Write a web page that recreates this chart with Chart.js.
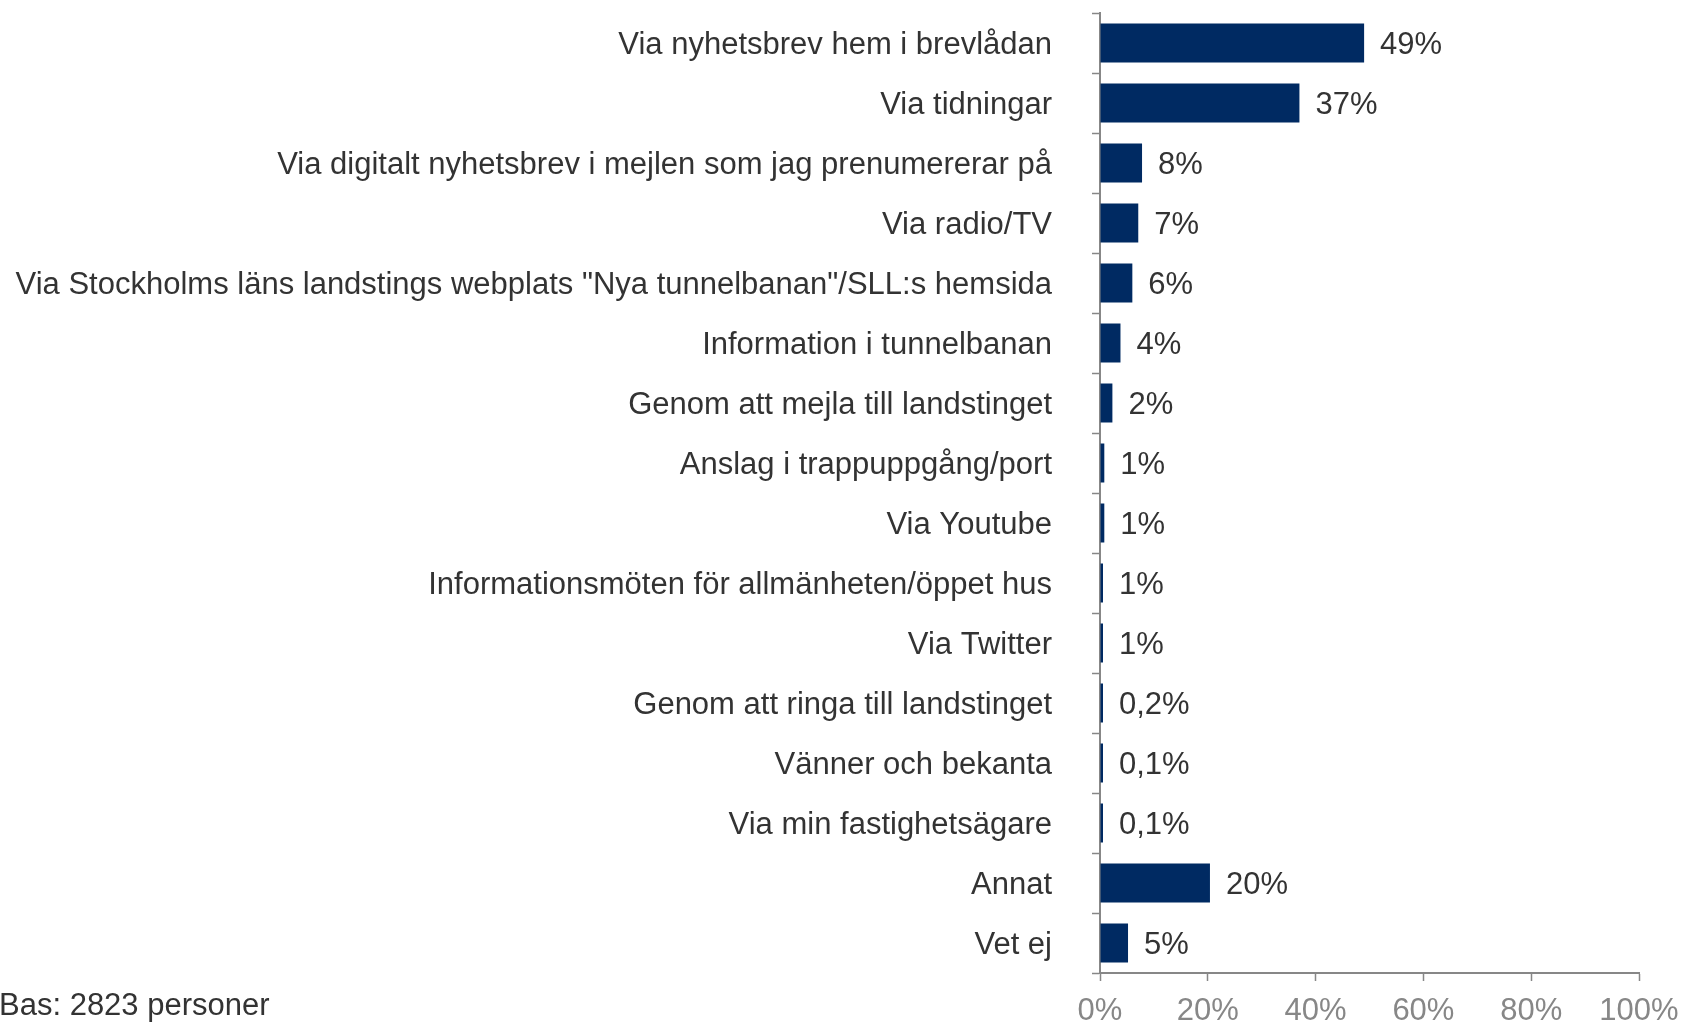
<!DOCTYPE html>
<html>
<head>
<meta charset="utf-8">
<script src="https://cdn.jsdelivr.net/npm/chart.js@4/dist/chart.umd.min.js"></script>
<style>
  html, body { margin: 0; padding: 0; background: #ffffff; overflow: hidden; }
  #wrap { position: relative; width: 1683px; height: 1023px; }
  #note { position: absolute; left: -1px; top: 989px; font: 31px "Liberation Sans", Arial, sans-serif; line-height: 31px; color: #333333; white-space: nowrap; }
</style>
</head>
<body>
<div id="wrap">
  <canvas id="c" width="1683" height="1023"></canvas>
  <div id="note">Bas: 2823 personer</div>
</div>
<script>
const categories = [
  'Via nyhetsbrev hem i brevlådan',
  'Via tidningar',
  'Via digitalt nyhetsbrev i mejlen som jag prenumererar på',
  'Via radio/TV',
  'Via Stockholms läns landstings webplats "Nya tunnelbanan"/SLL:s hemsida',
  'Information i tunnelbanan',
  'Genom att mejla till landstinget',
  'Anslag i trappuppgång/port',
  'Via Youtube',
  'Informationsmöten för allmänheten/öppet hus',
  'Via Twitter',
  'Genom att ringa till landstinget',
  'Vänner och bekanta',
  'Via min fastighetsägare',
  'Annat',
  'Vet ej'
];
const values = [49, 37, 7.8, 7.1, 6, 3.8, 2.3, 0.8, 0.8, 0.5, 0.5, 0.2, 0.1, 0.1, 20.4, 5.2];
const valueLabels = ['49%', '37%', '8%', '7%', '6%', '4%', '2%', '1%', '1%', '1%', '1%', '0,2%', '0,1%', '0,1%', '20%', '5%'];
const xTicks = [0, 20, 40, 60, 80, 100];

const FONT = '"Liberation Sans", Arial, sans-serif';

const valueLabelPlugin = {
  id: 'valueLabels',
  beforeDraw(chart) {
    const items = chart.scales.y.getLabelItems();
    if (!items._shifted) {
      items.forEach(it => { it.options.translation[1] += 2.5; });
      items._shifted = true;
    }
  },
  afterDatasetsDraw(chart) {
    const ctx = chart.ctx;
    const meta = chart.getDatasetMeta(0);
    ctx.save();
    ctx.font = '31px ' + FONT;
    ctx.fillStyle = '#333333';
    ctx.textAlign = 'left';
    ctx.textBaseline = 'middle';
    meta.data.forEach((bar, i) => {
      const p = bar.getProps(['x', 'y'], true);
      ctx.fillText(valueLabels[i], p.x + 16, p.y + 2.5);
    });
    ctx.restore();
  }
};

new Chart(document.getElementById('c'), {
  type: 'bar',
  data: {
    labels: categories,
    datasets: [{
      data: values,
      backgroundColor: '#002A62',
      borderWidth: 0,
      minBarLength: 3,
      barPercentage: 0.65,
      categoryPercentage: 1
    }]
  },
  options: {
    indexAxis: 'y',
    responsive: false,
    animation: false,
    devicePixelRatio: 1,
    layout: { padding: { top: 13, right: 44, bottom: 0, left: 0 } },
    plugins: { legend: { display: false }, tooltip: { enabled: false } },
    scales: {
      x: {
        min: 0,
        max: 100,
        afterBuildTicks(scale) { scale.ticks = xTicks.map(v => ({ value: v })); },
        afterFit(scale) { scale.height = 50; scale.paddingLeft = 0; scale.paddingRight = 0; },
        border: { display: true, color: '#878787', width: 2 },
        grid: { drawOnChartArea: false, drawTicks: true, tickLength: 8, tickColor: '#878787', tickWidth: 1.5 },
        ticks: {
          padding: 12,
          color: '#878787',
          font: { family: FONT, size: 31 },
          callback: (v) => v + '%'
        }
      },
      y: {
        afterFit(scale) { scale.width = 1100; scale.paddingTop = 0; scale.paddingBottom = 0; },
        border: { display: true, color: '#878787', width: 2 },
        grid: { drawOnChartArea: false, drawTicks: true, tickLength: 8, tickColor: '#878787', tickWidth: 1.5, offset: true },
        ticks: {
          autoSkip: false,
          padding: 40,
          color: '#333333',
          font: { family: FONT, size: 31 }
        }
      }
    }
  },
  plugins: [valueLabelPlugin]
});
</script>
</body>
</html>
